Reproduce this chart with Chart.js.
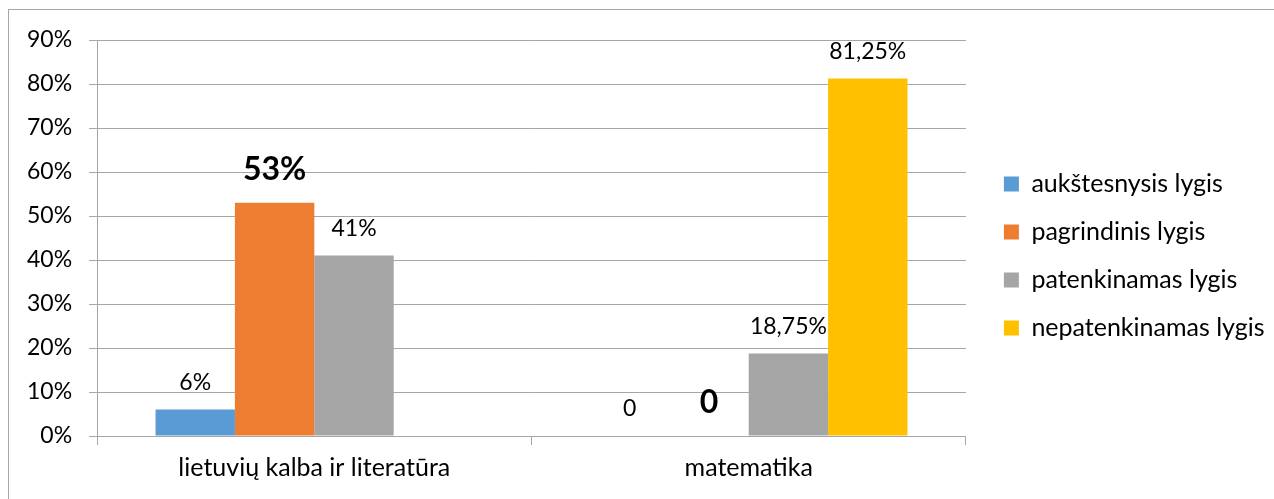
<!DOCTYPE html>
<html><head><meta charset="utf-8">
<script src="https://cdn.jsdelivr.net/npm/chart.js@4.4.0/dist/chart.umd.min.js"></script>
<style>
html,body{margin:0;padding:0;background:#fff;width:1274px;height:499px;overflow:hidden}
#frame{position:absolute;left:8px;top:9px;width:1400px;height:600px;border-left:1px solid #a6a6a6;border-top:1px solid #a6a6a6}
#wrap{position:absolute;left:0;top:0;width:1274px;height:499px}
</style></head><body>
<div id="frame"></div>
<div id="wrap"><canvas id="c"></canvas></div>
<script>
// ---- data ----
const categories = ['lietuvių kalba ir literatūra', 'matematika'];
const seriesNames = ['aukštesnysis lygis', 'pagrindinis lygis', 'patenkinamas lygis', 'nepatenkinamas lygis'];
const aukstesnysis = [6, 0];
const pagrindinis = [53, 0];
const patenkinamas = [41, 18.75];
const nepatenkinamas = [null, 81.25];
const labelsAukstesnysis = ['6%', '0'];
const labelsPagrindinis = ['53%', '0'];
const labelsPatenkinamas = ['41%', '18,75%'];
const labelsNepatenkinamas = ['', '81,25%'];
const yMin = 0, yMax = 90, yStep = 10;
const yTickSuffix = '%';

// ---- styles ----
const FONT = 'Lato';
const colors = ['#5B9BD5', '#ED7D31', '#A5A5A5', '#FFC000'];
const gridColor = '#a6a6a6';
const legendShift = {x: 15, y: -9.5};

const valueLabels = {
  id: 'valueLabels',
  afterDatasetsDraw(chart) {
    const ctx = chart.ctx;
    chart.data.datasets.forEach((ds, i) => {
      const meta = chart.getDatasetMeta(i);
      meta.data.forEach((bar, j) => {
        const t = ds.valueLabels[j];
        if (!t) return;
        ctx.save();
        ctx.font = ds.labelBold ? 'bold 32px ' + FONT : '23px ' + FONT;
        ctx.fillStyle = '#000';
        ctx.textAlign = 'center';
        ctx.textBaseline = 'middle';
        ctx.fillText(t, bar.x, bar.y - (ds.labelBold ? 33 : 27));
        ctx.restore();
      });
    });
  }
};
const legendOffset = {
  id: 'legendOffset',
  afterLayout(chart) {
    const L = chart.legend;
    if (!L) return;
    L.left += legendShift.x; L.right += legendShift.x;
    L.top += legendShift.y; L.bottom += legendShift.y;
  }
};

const seriesValues = [aukstesnysis, pagrindinis, patenkinamas, nepatenkinamas];
const seriesLabels = [labelsAukstesnysis, labelsPagrindinis, labelsPatenkinamas, labelsNepatenkinamas];

new Chart(document.getElementById('c'), {
  type: 'bar',
  data: {
    labels: categories,
    datasets: seriesNames.map((n, i) => ({
      label: n,
      data: seriesValues[i],
      backgroundColor: colors[i],
      borderWidth: 0,
      valueLabels: seriesLabels[i],
      labelBold: i === 1,
      categoryPercentage: 0.731,
      barPercentage: 1.0
    }))
  },
  options: {
    responsive: true,
    maintainAspectRatio: false,
    animation: false,
    layout: {padding: {left: 10, top: 40, right: 14.5, bottom: 8}},
    plugins: {
      tooltip: {enabled: false},
      legend: {
        position: 'right',
        labels: {
          boxWidth: 15, boxHeight: 15, padding: 23,
          color: '#000',
          font: {family: FONT, size: 25}
        }
      }
    },
    scales: {
      x: {
        grid: {display: true, drawOnChartArea: false, drawTicks: true, tickLength: 9, color: gridColor, offset: true},
        border: {display: true, color: gridColor},
        ticks: {color: '#000', padding: 8, font: {family: FONT, size: 25}}
      },
      y: {
        min: yMin, max: yMax,
        grid: {color: gridColor, tickLength: 8},
        border: {display: true, color: gridColor},
        ticks: {stepSize: yStep, padding: 17, color: '#000', font: {family: FONT, size: 23},
          callback: v => v + yTickSuffix}
      }
    }
  },
  plugins: [valueLabels, legendOffset]
});
</script>
</body></html>
